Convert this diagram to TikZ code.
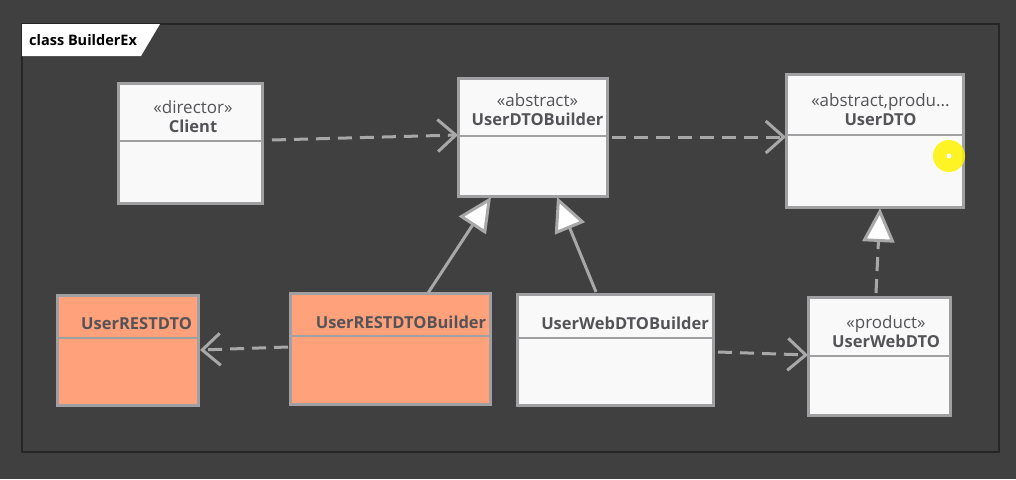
\documentclass[tikz,border=0pt]{standalone}
\usepackage{fontspec}
\setmainfont{Open Sans}
\usetikzlibrary{arrows.meta}
\definecolor{bggray}{RGB}{64,64,64}
\definecolor{framegray}{RGB}{38,38,38}
\definecolor{boxgray}{RGB}{160,160,162}
\definecolor{boxwhite}{RGB}{249,249,249}
\definecolor{salmon}{RGB}{255,161,122}
\definecolor{linegray}{RGB}{168,168,168}
\definecolor{txtgray}{RGB}{84,84,88}
\begin{document}
\begin{tikzpicture}[x=1pt, y=-1pt,
    classbox/.style={rectangle, draw=boxgray, line width=3pt, fill=boxwhite, inner sep=0, outer sep=0},
    restbox/.style={classbox, fill=salmon},
    divider/.style={draw=boxgray, line width=2.4pt},
    title/.style={align=center, text=txtgray, inner sep=0, font=\fontsize{16.5}{19}\selectfont},
    dep/.style={draw=linegray, line width=3pt, dash pattern=on 14pt off 8pt,
      -{Straight Barb[length=18pt, width=32pt]}},
    gen/.style={draw=linegray, line width=3pt,
      -{Triangle[length=34pt, width=32pt, fill=white]}}]
  % background and frame
  \fill[bggray] (0,0) rectangle (1016,479);
  \draw[framegray, line width=1.2pt] (22,24) rectangle (999,452);
  \fill[white] (22,24) -- (160,24) -- (141,56) -- (22,56) -- cycle;
  \node[anchor=west, inner sep=0, font=\fontsize{14.5}{16}\selectfont\bfseries] (tablabel) at (29,40) {class BuilderEx};

  % top row
  \node[classbox, minimum width=144pt, minimum height=120pt] (client) at (190,143) {};
  \node[classbox, minimum width=149pt, minimum height=118pt] (udb) at (532.5,137) {};
  \node[classbox, minimum width=177pt, minimum height=133pt] (udto) at (874.5,140.5) {};
  \draw[divider] ([yshift=-58pt]client.north west) -- ([yshift=-58pt]client.north east);
  \draw[divider] ([yshift=-58pt]udb.north west) -- ([yshift=-58pt]udb.north east);
  \draw[divider] ([yshift=-61pt]udto.north west) -- ([yshift=-61pt]udto.north east);
  \node[title] (clienttitle) at ([xshift=3pt, yshift=-34pt]client.north) {{\fontsize{17}{19}\selectfont«director»}\\\textbf{Client}};
  \node[title] (udbtitle) at ([xshift=5pt, yshift=-32pt]udb.north) {{\fontsize{17}{19}\selectfont«abstract»}\\\textbf{UserDTOBuilder}};
  \node[title] (udtotitle) at ([xshift=6pt, yshift=-36pt]udto.north) {{\fontsize{17}{19}\selectfont«abstract,produ...}\\\textbf{UserDTO}};

  % bottom row
  \node[restbox, minimum width=141pt, minimum height=110pt] (urest) at (127.5,350) {};
  \node[restbox, minimum width=200pt, minimum height=111pt] (urestb) at (390,348.5) {};
  \node[classbox, minimum width=196pt, minimum height=111pt] (uwebb) at (615,349.5) {};
  \node[classbox, minimum width=142pt, minimum height=118pt] (uweb) at (879,356) {};
  \draw[divider] ([yshift=-43pt]urest.north west) -- ([yshift=-43pt]urest.north east);
  \draw[divider] ([yshift=-43pt]urestb.north west) -- ([yshift=-43pt]urestb.north east);
  \draw[divider] ([yshift=-44pt]uwebb.north west) -- ([yshift=-44pt]uwebb.north east);
  \draw[divider] ([yshift=-59pt]uweb.north west) -- ([yshift=-59pt]uweb.north east);
  \node[title] (uresttitle) at ([xshift=9pt, yshift=-29pt]urest.north) {\textbf{UserRESTDTO}};
  \node[title] (urestbtitle) at ([xshift=11pt, yshift=-29pt]urestb.north) {\textbf{UserRESTDTOBuilder}};
  \node[title] (uwebbtitle) at ([xshift=10pt, yshift=-29pt]uwebb.north) {\textbf{UserWebDTOBuilder}};
  \node[title] (uwebtitle) at ([xshift=7pt, yshift=-35pt]uweb.north) {{\fontsize{17}{19}\selectfont«product»}\\\textbf{UserWebDTO}};

  % dependencies
  \draw[dep] ([xshift=10pt, yshift=3pt]client.east) -- ([yshift=2pt]udb.west);
  \draw[dep] ([xshift=5pt]udb.east) -- ([yshift=3.5pt]udto.west);
  \draw[dep] ([xshift=-2pt, yshift=1.5pt]urestb.west) -- ([xshift=2pt]urest.east);
  \draw[dep] ([xshift=5pt, yshift=-2.5pt]uwebb.east) -- ([yshift=1pt]uweb.west);

  % generalizations
  \draw[gen] ([xshift=38pt]urestb.north) -- ([xshift=-41.5pt, yshift=-1pt]udb.south);
  \draw[gen] ([xshift=-19pt, yshift=2pt]uwebb.north) -- ([xshift=24.5pt, yshift=-1pt]udb.south);
  \draw[gen, dash pattern=on 14pt off 8pt] ([xshift=-3pt, yshift=4pt]uweb.north) -- ([xshift=5.5pt, yshift=-1pt]udto.south);

  % pointer
  \fill[yellow, opacity=0.85] (949,156) circle (16pt);
  \fill[white] (949,156) circle (2.5pt);
\end{tikzpicture}
\end{document}
